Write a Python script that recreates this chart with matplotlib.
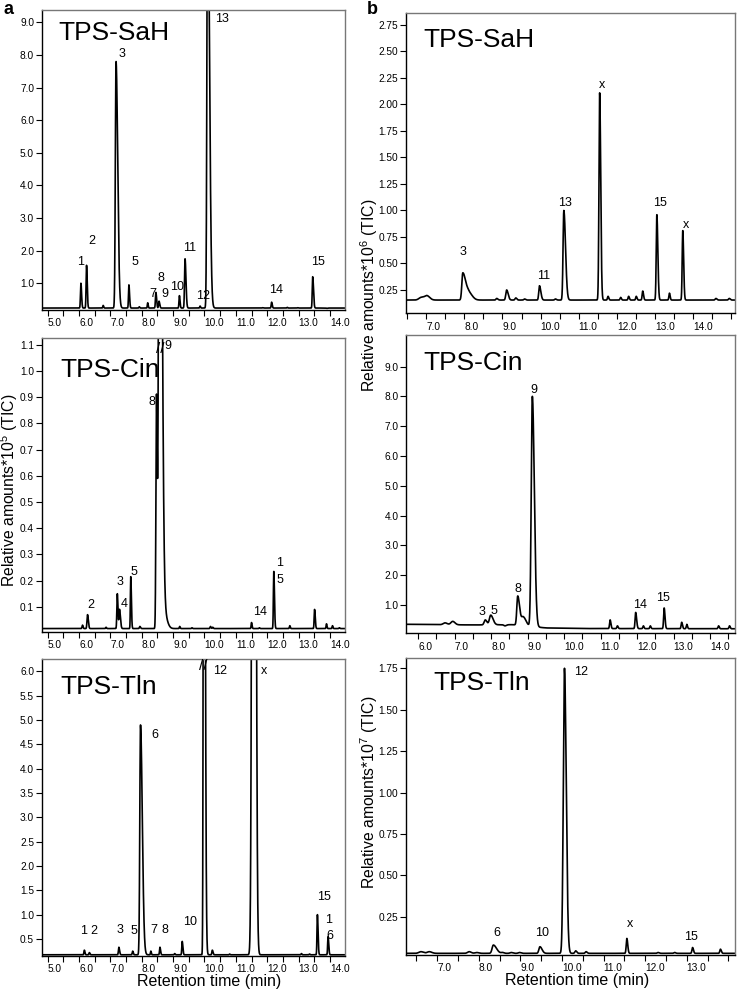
import numpy as np
import matplotlib
matplotlib.use('Agg')
import matplotlib.pyplot as plt
from matplotlib.ticker import FixedLocator, MultipleLocator

plt.rcParams['font.family'] = ['Liberation Sans', 'DejaVu Sans']
plt.rcParams['mathtext.default'] = 'regular'
plt.rcParams['xtick.direction'] = 'out'
plt.rcParams['ytick.direction'] = 'out'
plt.rcParams['xtick.labelsize'] = 7.3
plt.rcParams['ytick.labelsize'] = 7.3

# ---------- a: TPS-SaH ----------
a1_rt = [6.06, 6.24, 6.77, 7.18, 7.59, 7.92, 8.19, 8.45, 8.55, 9.20, 9.38, 9.86,
         10.10, 11.85, 12.14, 12.64, 12.97, 13.45, 13.70, 13.90]
a1_top = [1.0, 1.55, 0.32, 7.8, 0.95, 0.28, 0.40, 0.72, 0.45, 0.62, 1.75, 0.30,
          14.0, 0.25, 0.42, 0.26, 0.25, 1.20, 0.24, 0.23]
a1_sd = [0.014, 0.014, 0.012, 0.022, 0.013, 0.012, 0.012, 0.014, 0.014, 0.013, 0.016, 0.012,
         0.022, 0.012, 0.013, 0.012, 0.012, 0.014, 0.012, 0.012]
a1_tail = [1.5, 1.5, 1.3, 2.4, 1.6, 1.3, 1.3, 1.6, 1.6, 1.5, 1.8, 1.3,
           2.6, 1.3, 1.5, 1.3, 1.3, 1.8, 1.3, 1.3]
a1_base = 0.24
a1_names = ['1', '2', '3', '5', '7', '8', '9', '10', '11', '12', '13', '14', '15']
a1_name_x = [6.06, 6.40, 7.37, 7.78, 8.34, 8.61, 8.74, 9.14, 9.53, 9.96, 10.57, 12.29, 13.62]
a1_name_y = [1.64, 2.29, 8.04, 1.64, 0.67, 1.17, 0.67, 0.90, 2.09, 0.62, 9.10, 0.78, 1.65]

# ---------- a: TPS-Cin ----------
a2_rt = [6.11, 6.27, 6.86, 7.22, 7.29, 7.65, 7.94, 8.47, 8.57, 8.72, 9.21, 9.60,
         10.19, 10.26, 11.50, 11.75, 12.21, 12.72, 13.51, 13.89, 14.08, 14.30]
a2_top = [0.03, 0.07, 0.022, 0.15, 0.09, 0.215, 0.025, 0.90, 3.0, 0.07, 0.025, 0.02,
          0.025, 0.022, 0.04, 0.02, 0.235, 0.028, 0.09, 0.035, 0.028, 0.02]
a2_sd = [0.014, 0.016, 0.012, 0.014, 0.016, 0.012, 0.014, 0.018, 0.030, 0.06, 0.012, 0.012,
         0.014, 0.014, 0.012, 0.012, 0.013, 0.012, 0.013, 0.012, 0.012, 0.012]
a2_tail = [1.3, 1.6, 1.3, 1.5, 1.8, 1.6, 1.5, 1.3, 2.2, 1.5, 1.3, 1.3,
           1.3, 1.3, 1.4, 1.3, 1.6, 1.3, 1.6, 1.3, 1.3, 1.3]
a2_base = 0.017
a2_names = ['8', '9', '2', '3', '4', '5', '14', '1', '5']
a2_name_x = [8.34, 8.84, 6.37, 7.32, 7.44, 7.76, 11.78, 12.40, 12.40]
a2_name_y = [0.883, 1.096, 0.106, 0.196, 0.11, 0.233, 0.079, 0.266, 0.204]

# ---------- a: TPS-Tln ----------
a3_rt = [6.17, 6.33, 7.27, 7.71, 7.96, 8.29, 8.58, 9.05, 9.29, 9.98, 10.25, 10.80,
         11.57, 13.09, 13.35, 13.60, 13.94]
a3_top = [0.27, 0.22, 0.33, 0.25, 4.9, 0.25, 0.33, 0.20, 0.45, 20.0, 0.27, 0.19,
          40.0, 0.20, 0.19, 1.0, 0.55]
a3_sd = [0.013, 0.013, 0.014, 0.013, 0.022, 0.012, 0.013, 0.012, 0.013, 0.016, 0.014, 0.012,
         0.040, 0.012, 0.012, 0.013, 0.013]
a3_tail = [1.4, 1.4, 1.6, 1.5, 2.6, 1.3, 1.5, 1.3, 1.6, 2.2, 1.6, 1.3,
           1.2, 1.3, 1.3, 1.6, 1.6]
a3_base = 0.175
a3_names = ['12', 'x', '6', '1', '2', '3', '5', '7', '8', '10', '15', '1', '6']
a3_name_x = [10.49, 11.90, 8.42, 6.13, 6.48, 7.30, 7.75, 8.39, 8.74, 9.55, 13.80, 13.97, 13.99]
a3_name_y = [6.0, 6.0, 4.7, 0.66, 0.66, 0.69, 0.66, 0.69, 0.69, 0.84, 1.36, 0.88, 0.57]

# ---------- b: TPS-SaH ----------
b1_rt = [6.87, 7.02, 7.96, 8.12, 8.85, 9.11, 9.35, 9.58, 9.97, 10.39, 10.61, 11.55,
         11.77, 12.10, 12.31, 12.51, 12.68, 13.05, 13.38, 13.73, 14.60, 14.95]
b1_top = [0.18, 0.195, 0.41, 0.22, 0.17, 0.25, 0.175, 0.165, 0.29, 0.165, 1.0, 2.11,
          0.19, 0.18, 0.19, 0.19, 0.24, 0.96, 0.22, 0.81, 0.17, 0.17]
b1_sd = [0.06, 0.06, 0.025, 0.06, 0.02, 0.022, 0.02, 0.02, 0.018, 0.02, 0.02, 0.018,
         0.015, 0.015, 0.015, 0.015, 0.015, 0.016, 0.014, 0.015, 0.02, 0.02]
b1_tail = [1.2, 1.2, 3.0, 1.5, 1.5, 1.8, 1.3, 1.3, 2.0, 1.3, 2.2, 1.5,
           1.3, 1.3, 1.3, 1.3, 1.4, 1.6, 1.3, 1.5, 1.3, 1.3]
b1_base = 0.155
b1_names = ['3', '11', '13', 'x', '15', 'x']
b1_name_x = [7.96, 10.09, 10.65, 11.61, 13.13, 13.81]
b1_name_y = [0.61, 0.38, 1.07, 2.18, 1.07, 0.86]

# ---------- b: TPS-Cin ----------
b2_rt = [6.74, 6.95, 7.84, 7.99, 8.38, 8.73, 8.88, 9.13, 11.26, 11.46, 11.96, 12.17,
         12.36, 12.74, 13.22, 13.36, 14.23, 14.53]
b2_top = [0.40, 0.45, 0.50, 0.66, 0.30, 1.30, 0.60, 8.0, 0.50, 0.30, 0.75, 0.30,
          0.30, 0.90, 0.42, 0.35, 0.30, 0.30]
b2_sd = [0.05, 0.05, 0.03, 0.035, 0.03, 0.025, 0.05, 0.03, 0.015, 0.015, 0.016, 0.014,
         0.014, 0.015, 0.015, 0.014, 0.015, 0.015]
b2_tail = [1.2, 1.2, 1.5, 1.8, 1.3, 2.0, 1.5, 1.8, 1.4, 1.3, 1.6, 1.3,
           1.3, 1.5, 1.4, 1.3, 1.3, 1.3]
b2_base_rt = [5.0, 7.5, 8.6, 9.5, 10.5, 16.0]
b2_base_y = [0.36, 0.33, 0.34, 0.23, 0.21, 0.20]
b2_names = ['9', '8', '3', '5', '14', '15']
b2_name_x = [9.18, 8.73, 7.76, 8.09, 12.08, 12.72]
b2_name_y = [8.21, 1.53, 0.75, 0.81, 1.00, 1.24]

# ---------- b: TPS-Tln ----------
b3_rt = [6.61, 6.81, 7.77, 7.95, 8.35, 8.57, 8.78, 8.98, 9.47, 10.06, 10.33, 10.58,
         11.56, 12.31, 12.71, 13.14, 13.81]
b3_top = [0.04, 0.04, 0.04, 0.035, 0.08, 0.035, 0.035, 0.035, 0.07, 1.75, 0.045, 0.04,
          0.12, 0.035, 0.035, 0.065, 0.055]
b3_sd = [0.05, 0.05, 0.04, 0.04, 0.03, 0.03, 0.03, 0.03, 0.025, 0.028, 0.02, 0.02,
         0.015, 0.02, 0.02, 0.015, 0.015]
b3_tail = [1.2, 1.2, 1.2, 1.2, 2.5, 1.2, 1.2, 1.2, 2.0, 1.5, 1.3, 1.3,
           1.4, 1.2, 1.2, 1.4, 1.4]
b3_base = 0.03
b3_names = ['12', '6', '10', 'x', '15']
b3_name_x = [10.46, 8.44, 9.52, 11.64, 13.11]
b3_name_y = [1.73, 0.15, 0.15, 0.205, 0.13]


def trace(t, rt, top, sd, tail, base_rt, base_y):
    # baseline given by a few read-off points, peaks added on top of it
    y = np.interp(t, base_rt, base_y)
    for r, h, s, k in zip(rt, top, sd, tail):
        w = np.where(t < r, s, s * k)
        y = y + (h - np.interp(r, base_rt, base_y)) * np.exp(-0.5 * ((t - r) / w) ** 2)
    return y


def setup(ax, xlim, xmaj, ylim, yt, fmt):
    ax.set_xlim(xlim)
    ax.set_ylim(ylim)
    ax.xaxis.set_major_locator(FixedLocator(xmaj))
    ax.xaxis.set_minor_locator(MultipleLocator(0.5))
    ax.set_xticklabels(['%.1f' % v for v in xmaj])
    ax.set_yticks(yt)
    ax.set_yticklabels([fmt % v for v in yt])
    for lab in ax.get_xticklabels():
        lab.set_ha('left')
    ax.tick_params(axis='x', which='both', length=4, width=0.8, pad=2)
    ax.tick_params(axis='y', length=4, width=0.8, pad=1.5)
    for side in ['left', 'bottom']:
        ax.spines[side].set_linewidth(1.0)
    for side in ['top', 'right']:
        ax.spines[side].set_color('#777777')
        ax.spines[side].set_linewidth(1.0)


def labels(ax, names, xs, ys):
    for s, x, y in zip(names, xs, ys):
        ax.text(x, y, s, fontsize=9, ha='center', va='center')


fig = plt.figure(figsize=(7.38, 9.9), dpi=100)
W, H = 738.0, 990.0


def rect(x0, y0, x1, y1):
    return [x0 / W, 1 - y1 / H, (x1 - x0) / W, (y1 - y0) / H]


axA1 = fig.add_axes(rect(41.7, 10, 345, 310))
axA2 = fig.add_axes(rect(41.7, 338.3, 345, 631.7))
axA3 = fig.add_axes(rect(41.7, 659.3, 345, 956))
axB1 = fig.add_axes(rect(406, 13.3, 735, 313.3))
axB2 = fig.add_axes(rect(406, 335, 735, 633.3))
axB3 = fig.add_axes(rect(406, 658.3, 735, 955))

xa = (4.81, 14.48)
tA = np.linspace(xa[0], xa[1], 6000)
a_maj = [5.0, 6.0, 7.0, 8.0, 9.0, 10.0, 11.0, 12.0, 13.0, 14.0]
lw = 1.2

# a TPS-SaH
axA1.plot(tA, trace(tA, a1_rt, a1_top, a1_sd, a1_tail, [0, 20], [a1_base, a1_base]),
          color='k', lw=lw)
setup(axA1, xa, a_maj, (0.18, 9.38), [1, 2, 3, 4, 5, 6, 7, 8, 9], '%.1f')
labels(axA1, a1_names, a1_name_x, a1_name_y)
axA1.text(0.054, 0.925, 'TPS-SaH', transform=axA1.transAxes, fontsize=19, va='center')

# a TPS-Cin
axA2.plot(tA, trace(tA, a2_rt, a2_top, a2_sd, a2_tail, [0, 20], [a2_base, a2_base]),
          color='k', lw=lw)
setup(axA2, xa, a_maj, (0.005, 1.125),
      [0.1, 0.2, 0.3, 0.4, 0.5, 0.6, 0.7, 0.8, 0.9, 1.0, 1.1], '%.1f')
labels(axA2, a2_names, a2_name_x, a2_name_y)
axA2.text(8.58, 1.085, '//', fontsize=11, ha='center', va='center')
axA2.text(0.06, 0.892, 'TPS-Cin', transform=axA2.transAxes, fontsize=19, va='center')

# a TPS-Tln
axA3.plot(tA, trace(tA, a3_rt, a3_top, a3_sd, a3_tail, [0, 20], [a3_base, a3_base]),
          color='k', lw=lw)
setup(axA3, xa, a_maj, (0.15, 6.25),
      [0.5, 1.0, 1.5, 2.0, 2.5, 3.0, 3.5, 4.0, 4.5, 5.0, 5.5, 6.0], '%.1f')
labels(axA3, a3_names, a3_name_x, a3_name_y)
axA3.text(9.96, 6.12, '//', fontsize=11, ha='center', va='center')
axA3.text(0.06, 0.908, 'TPS-Tln', transform=axA3.transAxes, fontsize=19, va='center')

# b TPS-SaH
xb1 = (6.47, 15.1)
tB1 = np.linspace(xb1[0], xb1[1], 6000)
axB1.plot(tB1, trace(tB1, b1_rt, b1_top, b1_sd, b1_tail, [0, 20], [b1_base, b1_base]),
          color='k', lw=lw)
setup(axB1, xb1, [7.0, 8.0, 9.0, 10.0, 11.0, 12.0, 13.0, 14.0], (0.03, 2.86),
      [0.25, 0.5, 0.75, 1.0, 1.25, 1.5, 1.75, 2.0, 2.25, 2.5, 2.75], '%.2f')
labels(axB1, b1_names, b1_name_x, b1_name_y)
axB1.text(0.052, 0.911, 'TPS-SaH', transform=axB1.transAxes, fontsize=19, va='center')

# b TPS-Cin
xb2 = (5.67, 14.68)
tB2 = np.linspace(xb2[0], xb2[1], 6000)
axB2.plot(tB2, trace(tB2, b2_rt, b2_top, b2_sd, b2_tail, b2_base_rt, b2_base_y),
          color='k', lw=lw)
setup(axB2, xb2, [6.0, 7.0, 8.0, 9.0, 10.0, 11.0, 12.0, 13.0, 14.0], (0.05, 10.06),
      [1, 2, 3, 4, 5, 6, 7, 8, 9], '%.1f')
labels(axB2, b2_names, b2_name_x, b2_name_y)
axB2.text(0.052, 0.906, 'TPS-Cin', transform=axB2.transAxes, fontsize=19, va='center')

# b TPS-Tln
xb3 = (6.25, 14.16)
tB3 = np.linspace(xb3[0], xb3[1], 6000)
axB3.plot(tB3, trace(tB3, b3_rt, b3_top, b3_sd, b3_tail, [0, 20], [b3_base, b3_base]),
          color='k', lw=lw)
setup(axB3, xb3, [7.0, 8.0, 9.0, 10.0, 11.0, 12.0, 13.0], (0.02, 1.81),
      [0.25, 0.5, 0.75, 1.0, 1.25, 1.5, 1.75], '%.2f')
labels(axB3, b3_names, b3_name_x, b3_name_y)
axB3.text(0.082, 0.917, 'TPS-Tln', transform=axB3.transAxes, fontsize=19, va='center')

# shared labels
fig.text(9 / W, 1 - 490 / H, 'Relative amounts*10$^5$ (TIC)', rotation=90,
         ha='center', va='center', fontsize=11.3)
fig.text(369 / W, 1 - 295 / H, 'Relative amounts*10$^6$ (TIC)', rotation=90,
         ha='center', va='center', fontsize=11.3)
fig.text(369 / W, 1 - 792 / H, 'Relative amounts*10$^7$ (TIC)', rotation=90,
         ha='center', va='center', fontsize=11.3)
fig.text(209 / W, 1 - 981.7 / H, 'Retention time (min)', ha='center', va='center', fontsize=11.5)
fig.text(577.5 / W, 1 - 980 / H, 'Retention time (min)', ha='center', va='center', fontsize=11.5)
fig.text(8 / W, 1 - 9 / H, 'a', fontsize=13, fontweight='bold', ha='center', va='center')
fig.text(372 / W, 1 - 9 / H, 'b', fontsize=13, fontweight='bold', ha='center', va='center')

fig.savefig('out.png', dpi=100)
